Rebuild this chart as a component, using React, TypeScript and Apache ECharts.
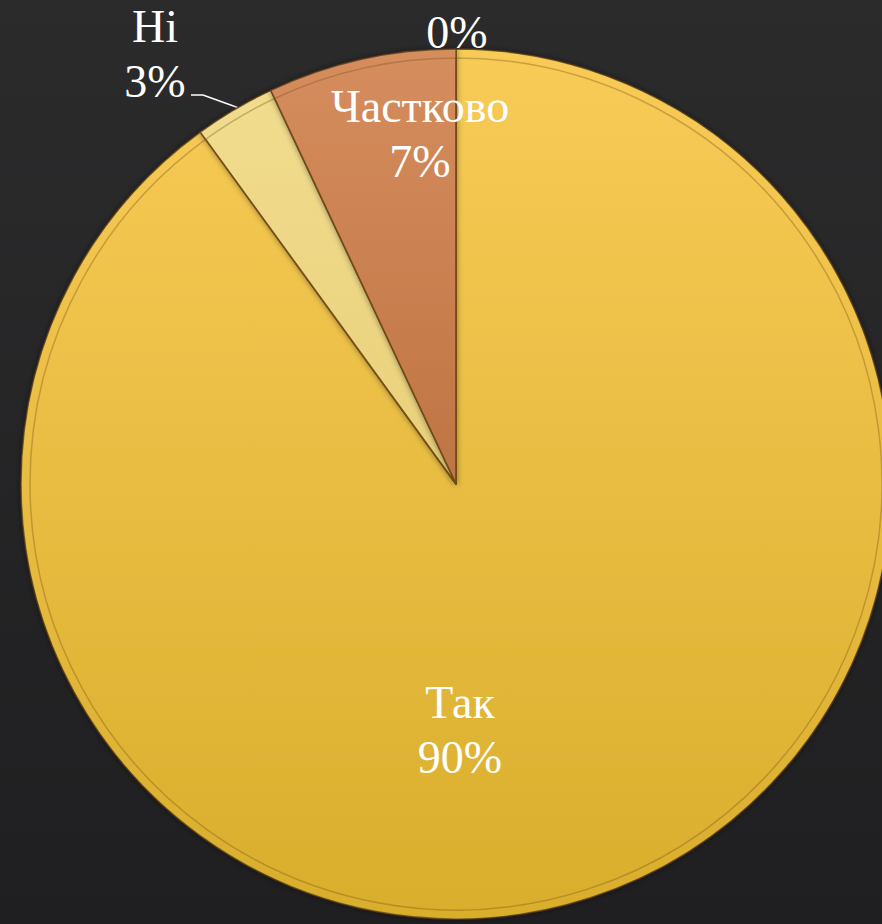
import React, { useEffect, useRef } from "react";
import * as echarts from "echarts";

const categories = ["Так", "Ні", "Частково", ""];
const values = [90, 3, 7, 0];
const sliceColors = [
  ["#f8cb57", "#d9ae2c"],
  ["#f1dc8e", "#e9d07a"],
  ["#d68d5e", "#bf7443"],
  ["#9e9e9e", "#8a8a8a"],
];
const labelCenters = [
  [460, 730],
  [155, 54],
  [420, 134],
  [457, 32],
];

const CX = 456;
const CY = 484;
const R = 435;
const FONT = "Liberation Serif";

export default function App() {
  const ref = useRef<HTMLDivElement>(null);
  useEffect(() => {
    if (!ref.current) return;
    const chart = echarts.init(ref.current, undefined, { renderer: "svg" });
    const grad = (c: string[]) => ({
      type: "linear",
      x: 0,
      y: 0,
      x2: 0,
      y2: 1,
      colorStops: [
        { offset: 0, color: c[0] },
        { offset: 1, color: c[1] },
      ],
    });
    const labelStyle = {
      show: true,
      color: "#ffffff",
      fontFamily: FONT,
      fontSize: 46,
      lineHeight: 55,
      align: "center",
      verticalAlign: "middle",
    };
    const data = categories.map((name, i) => ({
      name,
      value: values[i],
      itemStyle: { color: grad(sliceColors[i]) },
      label: { ...labelStyle, position: i === 1 ? "outside" : "inside" },
      labelLine: { show: i === 1 },
    }));
    const inner = categories.map((name, i) => ({ name, value: values[i] }));
    chart.setOption({
      animation: false,
      textStyle: { fontFamily: FONT },
      backgroundColor: {
        type: "linear",
        x: 0,
        y: 0,
        x2: 0,
        y2: 1,
        colorStops: [
          { offset: 0, color: "#2b2b2c" },
          { offset: 1, color: "#1f1f21" },
        ],
      },
      series: [
        {
          type: "pie",
          center: [CX, CY],
          radius: [0, R],
          startAngle: 90,
          clockwise: true,
          stillShowZeroSum: true,
          minShowLabelAngle: 0,
          avoidLabelOverlap: false,
          itemStyle: {
            borderColor: "rgba(90,60,20,0.75)",
            borderWidth: 1.5,
            shadowColor: "rgba(0,0,0,0.45)",
            shadowBlur: 6,
          },
          label: {
            ...labelStyle,
            formatter: (p: any) => {
              const pct = Math.round(p.percent) + "%";
              return p.name ? p.name + "\n" + pct : pct;
            },
          },
          labelLine: {
            lineStyle: { color: "#ffffff", width: 1.5 },
          },
          labelLayout: (p: any) => {
            const c = labelCenters[p.dataIndex];
            const res: any = { x: c[0], y: c[1], align: "center", verticalAlign: "middle" };
            if (p.dataIndex === 1) {
              const a = ((90 - (90 + 3 / 2) * 3.6) * Math.PI) / 180;
              const ex = CX + R * Math.cos(a);
              const ey = CY - R * Math.sin(a);
              res.labelLinePoints = [
                [ex + 3, ey - 2],
                [203, 95],
                [191, 95],
              ];
            }
            return res;
          },
          data,
        },
        {
          type: "pie",
          silent: true,
          center: [CX, CY],
          radius: [0, R - 9],
          startAngle: 90,
          clockwise: true,
          stillShowZeroSum: true,
          label: { show: false },
          labelLine: { show: false },
          itemStyle: {
            color: "rgba(0,0,0,0)",
            borderColor: "rgba(120,80,20,0.35)",
            borderWidth: 1.5,
          },
          data: inner,
        },
      ],
    });
    return () => chart.dispose();
  }, []);
  return (
    <div
      ref={ref}
      style={{ position: "absolute", left: 0, top: 0, width: 882, height: 924 }}
    />
  );
}
